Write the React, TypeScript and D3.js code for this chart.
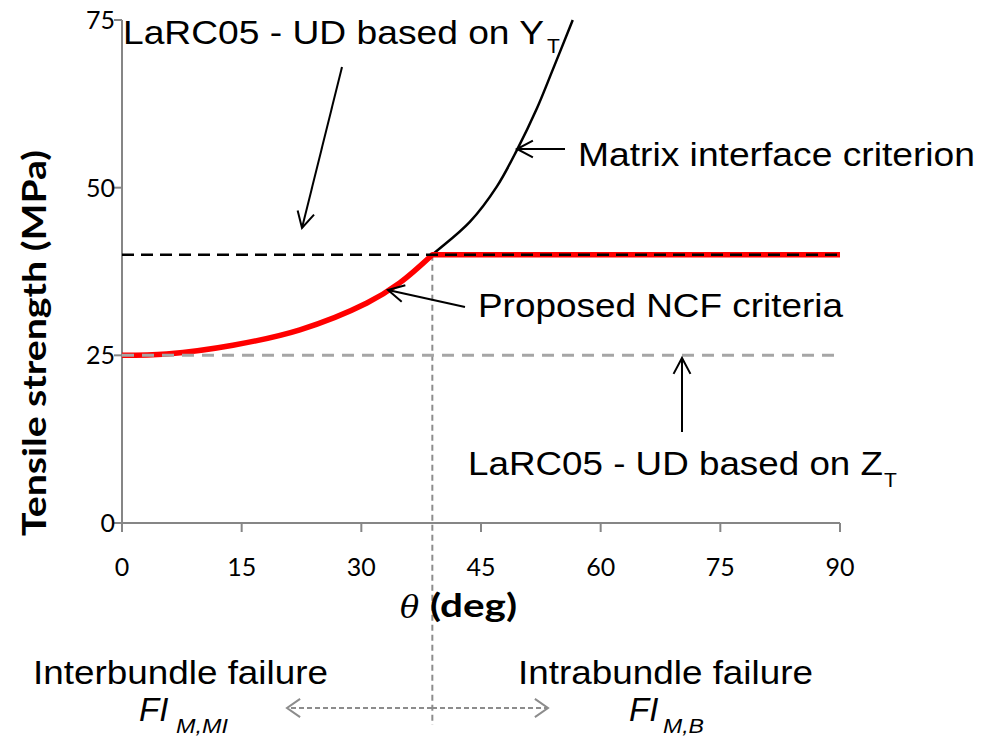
import React from "react";
import * as d3 from "d3";

// ---- data ----
const matrixTheta = [0, 5.6, 13.9, 22.3, 30.7, 34.8, 38.9, 43.6, 47.0, 49.5, 52.0, 54.0, 56.5];
const matrixStrength = [25, 25.2, 26.5, 28.8, 32.8, 35.8, 40.0, 44.9, 50.2, 55.6, 61.8, 67.6, 75.0];
const ncfTheta = [0, 5.6, 13.9, 22.3, 30.7, 34.8, 38.9, 90];
const ncfStrength = [25, 25.2, 26.5, 28.8, 32.8, 35.8, 40.0, 40.0];
const yTStrength = 40;
const zTStrength = 25;
const transitionTheta = 38.9;
const xTicks = [0, 15, 30, 45, 60, 75, 90];
const yTicks = [0, 25, 50, 75];

const W = 983;
const H = 739;
const AXIS = "#868686";
const SANS = "'Liberation Sans', Arial, sans-serif";
const CAL = "Lato, 'Open Sans', sans-serif";

function Arrow({ x1, y1, x2, y2, color = "#000", len = 18, ang = 28, width = 2, dash }: any) {
  const a = Math.atan2(y1 - y2, x1 - x2);
  const r = (ang * Math.PI) / 180;
  const p1 = [x2 + len * Math.cos(a + r), y2 + len * Math.sin(a + r)];
  const p2 = [x2 + len * Math.cos(a - r), y2 + len * Math.sin(a - r)];
  return (
    <g stroke={color} strokeWidth={width} fill="none">
      <line x1={x1} y1={y1} x2={x2} y2={y2} strokeDasharray={dash} />
      <polyline points={`${p1[0]},${p1[1]} ${x2},${y2} ${p2[0]},${p2[1]}`} />
    </g>
  );
}

export default function App() {
  const x = d3.scaleLinear().domain([0, 90]).range([122, 840]);
  const y = d3.scaleLinear().domain([0, 75]).range([523, 20]);

  const line = d3
    .line<[number, number]>()
    .x((d) => x(d[0]))
    .y((d) => y(d[1]))
    .curve(d3.curveCatmullRom.alpha(0.5));

  const matrixPts = matrixTheta.map((t, i) => [t, matrixStrength[i]] as [number, number]);
  const ncfCurve = ncfTheta
    .slice(0, ncfTheta.length - 1)
    .map((t, i) => [t, ncfStrength[i]] as [number, number]);
  const lastN = ncfTheta.length - 1;
  const ncfPath = line(ncfCurve) + `L${x(ncfTheta[lastN])},${y(ncfStrength[lastN])}`;

  const xt = x(transitionTheta);

  return (
    <svg
      width={W}
      height={H}
      style={{ position: "absolute", left: 0, top: 0, background: "#fff" }}
    >
      {/* axes */}
      <line x1={x(0)} y1={y(0)} x2={x(0)} y2={y(75)} stroke={AXIS} strokeWidth={2} />
      <line x1={x(0) - 8} y1={y(0)} x2={x(90)} y2={y(0)} stroke={AXIS} strokeWidth={2} />
      {yTicks.map((t) => (
        <g key={"yt" + t}>
          <line x1={x(0) - 8} x2={x(0)} y1={y(t)} y2={y(t)} stroke={AXIS} strokeWidth={2} />
          <text x={115} y={y(t) + 9} textAnchor="end" fontFamily={CAL} fontSize={25} fill="#000">
            {t}
          </text>
        </g>
      ))}
      {xTicks.map((t) => (
        <g key={"xt" + t}>
          <line x1={x(t)} x2={x(t)} y1={y(0)} y2={y(0) + 9} stroke={AXIS} strokeWidth={2} />
          <text x={x(t)} y={576} textAnchor="middle" fontFamily={CAL} fontSize={25} fill="#000">
            {t}
          </text>
        </g>
      ))}

      {/* vertical transition line */}
      <line
        x1={xt}
        x2={xt}
        y1={y(yTStrength)}
        y2={725}
        stroke="#8c8c8c"
        strokeWidth={2}
        strokeDasharray="6,4"
      />

      {/* matrix interface curve */}
      <path d={line(matrixPts) || ""} fill="none" stroke="#000" strokeWidth={2.5} />
      {/* proposed NCF criteria */}
      <path d={ncfPath} fill="none" stroke="#ff0000" strokeWidth={5.5} strokeLinejoin="round" />
      {/* Z_T reference */}
      <line
        x1={x(0)}
        x2={x(90)}
        y1={y(zTStrength)}
        y2={y(zTStrength)}
        stroke="#a6a6a6"
        strokeWidth={3}
        strokeDasharray="12,8"
      />
      {/* Y_T reference */}
      <line
        x1={x(0)}
        x2={x(90)}
        y1={y(yTStrength)}
        y2={y(yTStrength)}
        stroke="#000"
        strokeWidth={2.5}
        strokeDasharray="12,7"
      />

      {/* annotation arrows */}
      <Arrow x1={342} y1={67} x2={302} y2={228} />
      <Arrow x1={565} y1={149} x2={517} y2={149} />
      <Arrow x1={465} y1={307} x2={388} y2={290} />
      <Arrow x1={682} y1={432} x2={682} y2={358} />
      <Arrow x1={432} y1={708} x2={287} y2={708} color="#8c8c8c" dash="5,3" len={16} ang={35} />
      <Arrow x1={432} y1={708} x2={548} y2={708} color="#8c8c8c" dash="5,3" len={16} ang={35} />

      {/* annotation texts */}
      <text x={123} y={44} fontFamily={SANS} fontSize={33} textLength={421} lengthAdjust="spacingAndGlyphs">
        LaRC05 - UD based on Y
      </text>
      <text x={547} y={53} fontFamily={SANS} fontSize={21}>T</text>

      <text x={578} y={166} fontFamily={SANS} fontSize={33} textLength={397} lengthAdjust="spacingAndGlyphs">
        Matrix interface criterion
      </text>
      <text x={478} y={317} fontFamily={SANS} fontSize={33} textLength={365} lengthAdjust="spacingAndGlyphs">
        Proposed NCF criteria
      </text>
      <text x={468} y={475} fontFamily={SANS} fontSize={33} textLength={415} lengthAdjust="spacingAndGlyphs">
        LaRC05 - UD based on Z
      </text>
      <text x={884} y={487} fontFamily={SANS} fontSize={21}>T</text>

      {/* axis titles */}
      <text
        transform="translate(46,343) rotate(-90)"
        textAnchor="middle"
        fontFamily={CAL}
        fontWeight="bold"
        fontSize={32}
        textLength={386}
        lengthAdjust="spacingAndGlyphs"
      >
        Tensile strength (MPa)
      </text>
      <text x={400} y={618} fontFamily="'DejaVu Serif', 'Liberation Serif', serif" fontStyle="italic" fontSize={32}>
        θ
      </text>
      <text x={430} y={617} fontFamily={CAL} fontWeight="bold" fontSize={32} textLength={87} lengthAdjust="spacingAndGlyphs">
        (deg)
      </text>

      {/* bottom labels */}
      <text x={33} y={684} fontFamily={SANS} fontSize={33} textLength={295} lengthAdjust="spacingAndGlyphs">
        Interbundle failure
      </text>
      <text x={139} y={721} fontFamily={SANS} fontStyle="italic" fontSize={33}>FI</text>
      <text x={176} y={733} fontFamily={SANS} fontStyle="italic" fontSize={20} textLength={52} lengthAdjust="spacingAndGlyphs">
        M,MI
      </text>
      <text x={518} y={684} fontFamily={SANS} fontSize={33} textLength={295} lengthAdjust="spacingAndGlyphs">
        Intrabundle failure
      </text>
      <text x={629} y={721} fontFamily={SANS} fontStyle="italic" fontSize={33}>FI</text>
      <text x={663} y={733} fontFamily={SANS} fontStyle="italic" fontSize={20} textLength={41} lengthAdjust="spacingAndGlyphs">
        M,B
      </text>
    </svg>
  );
}
